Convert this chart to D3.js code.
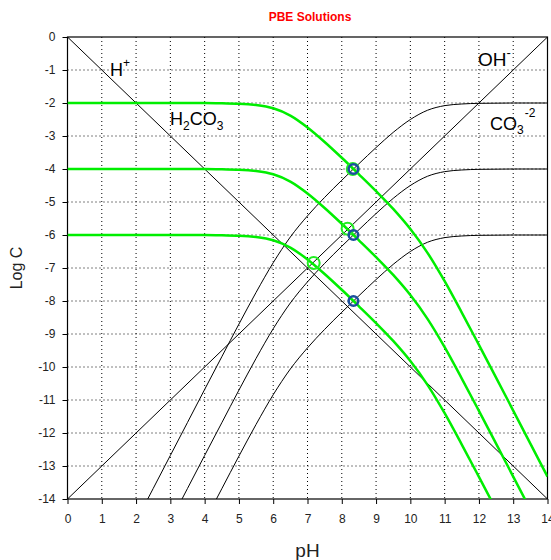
<!DOCTYPE html>
<html>
<head>
<meta charset="utf-8">
<script src="https://cdn.jsdelivr.net/npm/d3@7"></script>
<style>
  body { margin: 0; background: #fff; }
  text { font-family: "Liberation Sans", Arial, sans-serif; }
</style>
</head>
<body>
<div id="chart"></div>
<script>
// pH points where the curves were read
const phH2co3 = [0, 1, 2, 3, 4, 4.5, 5, 5.5, 6, 6.5, 7, 7.5, 8, 8.5, 9, 9.5, 10, 10.5, 11, 11.5, 12, 12.5, 13, 13.5, 14];
const phCo3 = [2, 2.5, 3, 3.5, 4, 4.5, 5, 5.5, 6, 6.5, 7, 7.5, 8, 8.5, 9, 9.5, 10, 10.5, 11, 11.5, 12, 13, 14];

// H2CO3 (green) for CT = 1e-2, 1e-4, 1e-6
const h2co3_2 = [-2, -2, -2, -2, -2, -2.01, -2.02, -2.06, -2.16, -2.38, -2.74, -3.18, -3.66, -4.16, -4.67, -5.21, -5.82, -6.54, -7.40, -8.35, -9.33, -10.32, -11.32, -12.32, -13.32];
const h2co3_4 = [-4, -4, -4, -4, -4, -4.01, -4.02, -4.06, -4.16, -4.38, -4.74, -5.18, -5.66, -6.16, -6.67, -7.21, -7.82, -8.54, -9.40, -10.35, -11.33, -12.32, -13.32, -14.32, -15.32];
const h2co3_6 = [-6, -6, -6, -6, -6, -6.01, -6.02, -6.06, -6.16, -6.38, -6.74, -7.18, -7.66, -8.16, -8.67, -9.21, -9.82, -10.54, -11.40, -12.35, -13.33, -14.32, -15.32, -16.32, -17.32];

// CO3-2 (black) for CT = 1e-2, 1e-4, 1e-6
const co3_2 = [-14.68, -13.68, -12.68, -11.68, -10.68, -9.69, -8.70, -7.74, -6.84, -6.06, -5.42, -4.86, -4.34, -3.84, -3.35, -2.89, -2.50, -2.22, -2.08, -2.03, -2.01, -2, -2];
const co3_4 = [-16.68, -15.68, -14.68, -13.68, -12.68, -11.69, -10.70, -9.74, -8.84, -8.06, -7.42, -6.86, -6.34, -5.84, -5.35, -4.89, -4.50, -4.22, -4.08, -4.03, -4.01, -4, -4];
const co3_6 = [-18.68, -17.68, -16.68, -15.68, -14.68, -13.69, -12.70, -11.74, -10.84, -10.06, -9.42, -8.86, -8.34, -7.84, -7.35, -6.89, -6.50, -6.22, -6.08, -6.03, -6.01, -6, -6];

// H+ and OH- lines
const hLine = [[0, 0], [14, -14]];
const ohLine = [[0, -14], [14, 0]];

// PBE solutions
const greenPts = [[8.32, -4.0], [8.17, -5.81], [7.18, -6.85]];
const bluePts = [[8.34, -4], [8.34, -6], [8.34, -8]];

const xTicks = d3.range(0, 15);
const yTicks = d3.range(0, -15, -1);

const W = 551, H = 560;
const pLeft = 67.5, pRight = 547.5, pTop = 37, pBottom = 499;

const svg = d3.select('#chart').append('svg')
  .attr('width', W)
  .attr('height', H);

const x = d3.scaleLinear().domain([0, 14]).range([pLeft, pRight]);
const y = d3.scaleLinear().domain([0, -14]).range([pTop, pBottom]);

svg.append('defs').append('clipPath').attr('id', 'clip')
  .append('rect')
  .attr('x', pLeft).attr('y', pTop)
  .attr('width', pRight - pLeft).attr('height', pBottom - pTop);

// dotted grid
svg.append('g').selectAll('line')
  .data(xTicks.slice(1, -1))
  .enter().append('line')
  .attr('x1', d => x(d)).attr('x2', d => x(d))
  .attr('y1', pTop).attr('y2', pBottom)
  .attr('stroke', '#000').attr('stroke-dasharray', '1,3');

svg.append('g').selectAll('line')
  .data(yTicks.slice(1, -1))
  .enter().append('line')
  .attr('y1', d => y(d)).attr('y2', d => y(d))
  .attr('x1', pLeft).attr('x2', pRight)
  .attr('stroke', '#000').attr('stroke-dasharray', '1,3');

// axes
const xAxis = svg.append('g')
  .attr('transform', `translate(0,${pBottom})`)
  .call(d3.axisBottom(x).tickValues(xTicks).tickSize(5).tickPadding(10).tickFormat(d3.format('d')));
const yAxis = svg.append('g')
  .attr('transform', `translate(${pLeft},0)`)
  .call(d3.axisLeft(y).tickValues(yTicks).tickSize(5).tickPadding(7).tickFormat(d => d === 0 ? '0' : '-' + Math.abs(d)));
[xAxis, yAxis].forEach(a => {
  a.select('.domain').remove();
  a.selectAll('text').attr('font-size', '12px').attr('fill', '#222')
    .attr('font-family', '"Liberation Sans", Arial, sans-serif');
});

// frame
svg.append('rect')
  .attr('x', pLeft).attr('y', pTop)
  .attr('width', pRight - pLeft).attr('height', pBottom - pTop)
  .attr('fill', 'none').attr('stroke', '#000').attr('stroke-width', 1.2);

const plot = svg.append('g').attr('clip-path', 'url(#clip)');

const line = d3.line()
  .x(d => x(d[0]))
  .y(d => y(d[1]))
  .curve(d3.curveMonotoneX);

// straight lines
[hLine, ohLine].forEach(l => {
  plot.append('path').attr('d', line(l))
    .attr('fill', 'none').attr('stroke', '#000').attr('stroke-width', 1);
});

// CO3-2 curves
[co3_2, co3_4, co3_6].forEach(vals => {
  plot.append('path').attr('d', line(phCo3.map((p, i) => [p, vals[i]])))
    .attr('fill', 'none').attr('stroke', '#000').attr('stroke-width', 1);
});

// H2CO3 curves
[h2co3_2, h2co3_4, h2co3_6].forEach(vals => {
  plot.append('path').attr('d', line(phH2co3.map((p, i) => [p, vals[i]])))
    .attr('fill', 'none').attr('stroke', '#00ee00').attr('stroke-width', 2.5);
});

// solution markers
svg.selectAll('circle.green')
  .data(greenPts)
  .enter().append('circle')
  .attr('class', 'green')
  .attr('cx', d => x(d[0])).attr('cy', d => y(d[1]))
  .attr('r', 6)
  .attr('fill', 'none').attr('stroke', '#22ee22').attr('stroke-width', 2);

svg.selectAll('circle.blue')
  .data(bluePts)
  .enter().append('circle')
  .attr('class', 'blue')
  .attr('cx', d => x(d[0])).attr('cy', d => y(d[1]))
  .attr('r', 4.8)
  .attr('fill', 'none').attr('stroke', '#1a4f9c').attr('stroke-width', 2.5);

// species labels
function label(px, py, parts) {
  const t = svg.append('text').attr('x', px).attr('y', py)
    .attr('font-size', '18px').attr('fill', '#000');
  parts.forEach(p => {
    const s = t.append('tspan').text(p.t);
    if (p.dy) s.attr('dy', p.dy);
    if (p.size) s.attr('font-size', p.size);
    if (p.dx) s.attr('dx', p.dx);
  });
}
label(110, 76, [{ t: 'H' }, { t: '+', dy: -9, size: '12px' }]);
label(478, 66, [{ t: 'OH', size: '19px' }, { t: '-', dy: -9, size: '13px' }]);
label(170, 125, [{ t: 'H' }, { t: '2', dy: 5, size: '12px' }, { t: 'CO', dy: -5 }, { t: '3', dy: 5, size: '12px' }]);
label(490, 130, [{ t: 'CO' }, { t: '3', dy: 4, size: '12px' }, { t: '-2', dy: -17, dx: 1, size: '12px' }]);

// titles
svg.append('text')
  .attr('x', 310).attr('y', 21)
  .attr('text-anchor', 'middle')
  .attr('font-size', '12px').attr('font-weight', 'bold')
  .attr('fill', '#f00')
  .text('PBE Solutions');

svg.append('text')
  .attr('x', (pLeft + pRight) / 2).attr('y', 557)
  .attr('text-anchor', 'middle')
  .attr('font-size', '19px').attr('fill', '#222')
  .text('pH');

svg.append('text')
  .attr('transform', `translate(22,${(pTop + pBottom) / 2}) rotate(-90)`)
  .attr('text-anchor', 'middle')
  .attr('font-size', '16px').attr('fill', '#222')
  .text('Log C');
</script>
</body>
</html>
